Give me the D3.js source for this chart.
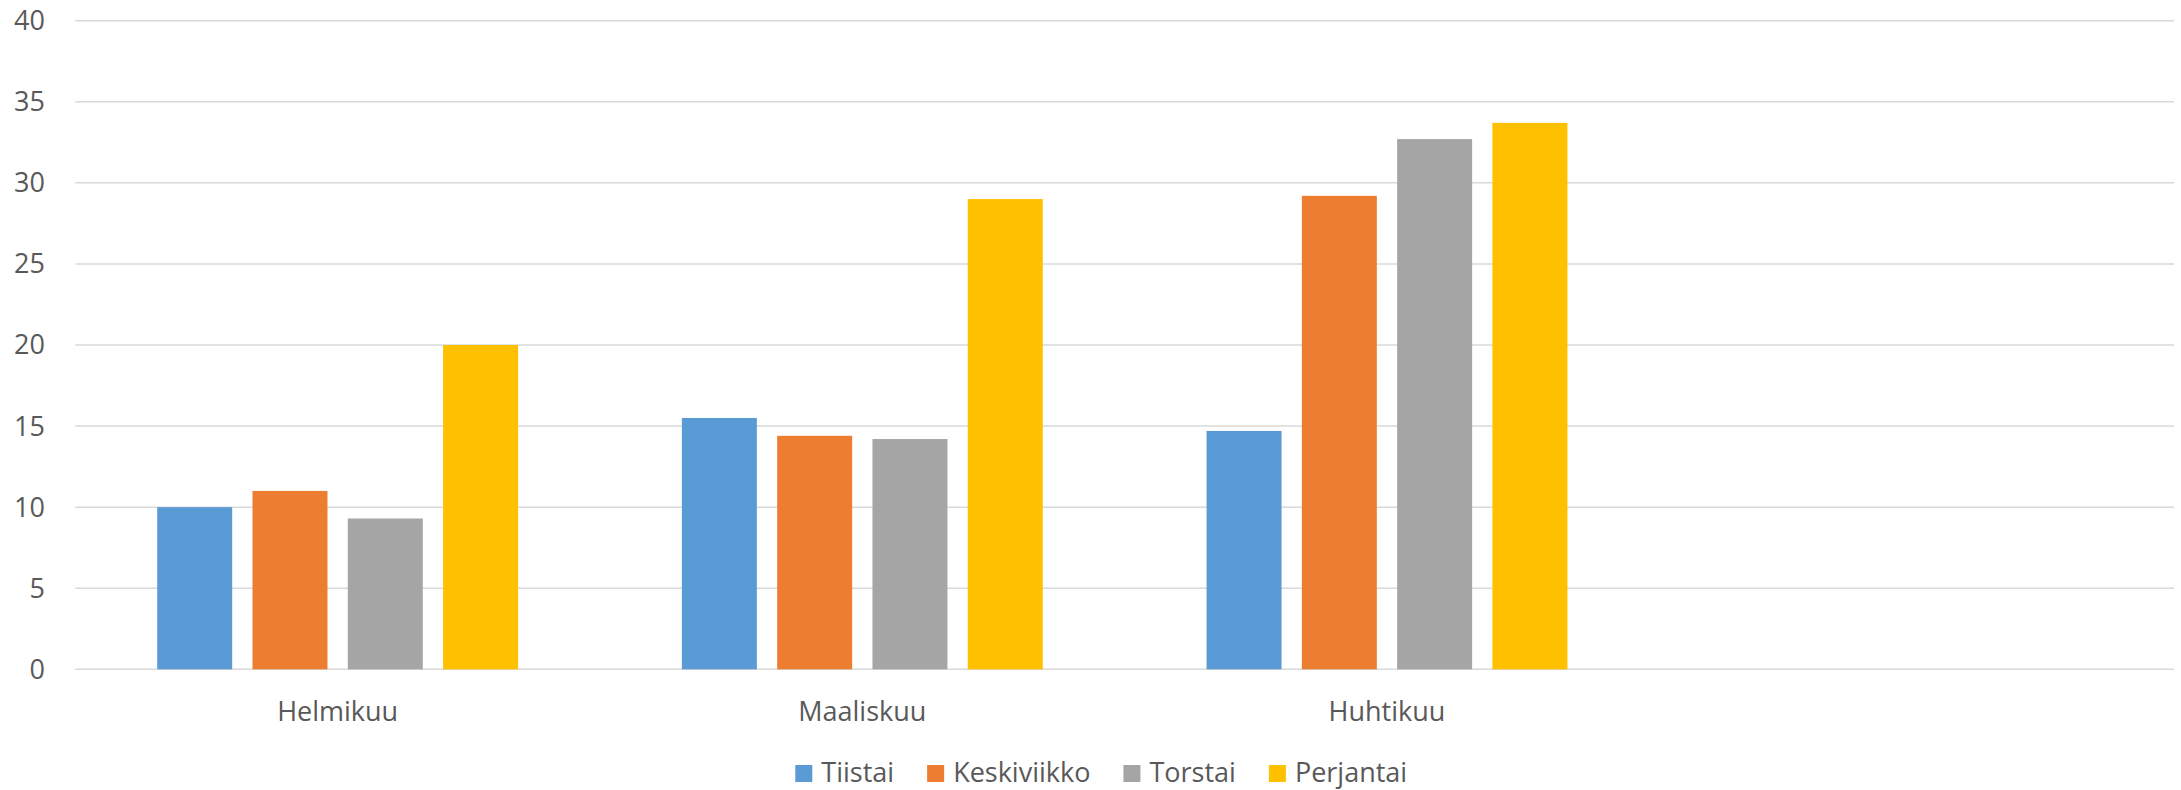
<!DOCTYPE html>
<html>
<head>
<meta charset="utf-8">
<script src="https://cdn.jsdelivr.net/npm/d3@7"></script>
<style>
  html, body { margin: 0; padding: 0; background: #fff; }
  svg { display: block; font-family: "Open Sans", "Noto Sans", sans-serif; }
</style>
</head>
<body>
<svg id="chart" width="2181" height="790"></svg>
<script>
// months; the last slot is empty in the original sheet
const months= ['Helmikuu', 'Maaliskuu', 'Huhtikuu', ''];
const days= ['Tiistai', 'Keskiviikko', 'Torstai', 'Perjantai'];
const tiistai= [10, 15.5, 14.7];
const keskiviikko= [11, 14.4, 29.2];
const torstai= [9.3, 14.2, 32.7];
const perjantai= [20, 29, 33.7];
const yTicks= [0, 5, 10, 15, 20, 25, 30, 35, 40];
const colors= ['#5B9BD5', '#ED7D31', '#A5A5A5', '#FFC000'];

const series= [tiistai, keskiviikko, torstai, perjantai];

const plotL= 75.3, plotR= 2174, plotT= 20.7, plotB= 669.3;

const svg= d3.select('#chart');

const x= d3.scaleBand().domain(months).range([plotL, plotR]).padding(0);
const groupPad= 81.9;
const xi= d3.scaleBand().domain(days)
  .range([groupPad, x.bandwidth()-groupPad])
  .paddingInner(0.213).paddingOuter(0);
const y= d3.scaleLinear().domain([0, 40]).range([plotB, plotT]);

// gridlines
svg.append('g')
  .selectAll('line')
  .data(yTicks)
  .join('line')
  .attr('x1', plotL).attr('x2', plotR)
  .attr('y1', d => y(d)).attr('y2', d => y(d))
  .attr('stroke', '#d9d9d9')
  .attr('stroke-width', 1.5);

// y labels
svg.append('g')
  .selectAll('text')
  .data(yTicks)
  .join('text')
  .attr('x', 45)
  .attr('y', d => y(d))
  .attr('dy', '0.35em')
  .attr('text-anchor', 'end')
  .attr('font-size', 27)
  .attr('fill', '#595959')
  .text(d => d);

// bars
const rows= [];
months.slice(0, 3).forEach((m, i) => {
  days.forEach((d, j) => rows.push({month: m, day: d, value: series[j][i], color: colors[j]}));
});

svg.append('g')
  .selectAll('rect')
  .data(rows)
  .join('rect')
  .attr('x', d => x(d.month)+xi(d.day))
  .attr('y', d => y(d.value))
  .attr('width', xi.bandwidth())
  .attr('height', d => y(0)-y(d.value))
  .attr('fill', d => d.color);

// category labels
svg.append('g')
  .selectAll('text')
  .data(months.filter(m => m))
  .join('text')
  .attr('x', d => x(d)+x.bandwidth()/2)
  .attr('y', 721)
  .attr('text-anchor', 'middle')
  .attr('font-size', 27)
  .attr('fill', '#595959')
  .text(d => d);

// legend
const leg= svg.append('g');
let lx= 795.3;
days.forEach((d, j) => {
  leg.append('rect')
    .attr('x', lx).attr('y', 765)
    .attr('width', 17).attr('height', 17)
    .attr('fill', colors[j]);
  const t= leg.append('text')
    .attr('x', lx+26)
    .attr('y', 782.3)
    .attr('font-size', 27)
    .attr('fill', '#595959')
    .text(d);
  lx+= 26+t.node().getComputedTextLength()+33;
});
</script>
</body>
</html>
